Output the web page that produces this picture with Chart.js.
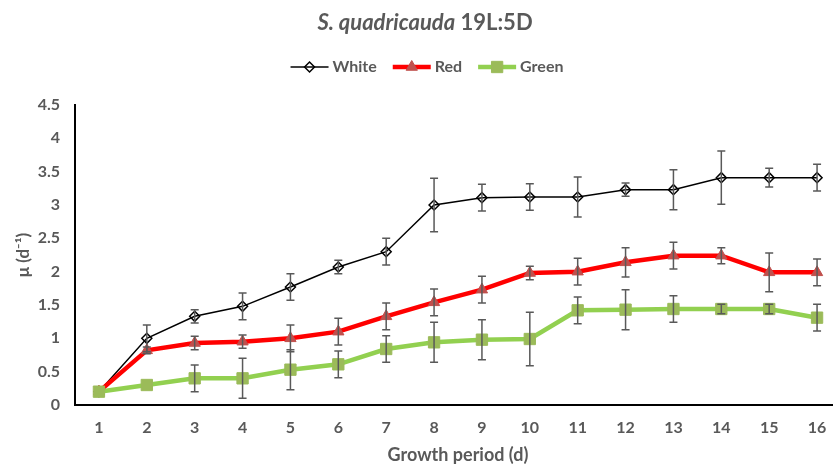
<!DOCTYPE html>
<html>
<head>
<meta charset="utf-8">
<script src="https://cdn.jsdelivr.net/npm/chart.js@4/dist/chart.umd.min.js"></script>
<style>
  body { margin: 0; background: #fff; overflow: hidden; }
  .wrap { width: 850px; height: 466px; }
</style>
</head>
<body>
<div class="wrap"><canvas id="growthChart"></canvas></div>
<script>
// Growth period (days)
const days = [1, 2, 3, 4, 5, 6, 7, 8, 9, 10, 11, 12, 13, 14, 15, 16];

// specific growth rate per light colour, with error bars
const white    = [0.2, 1.0, 1.33, 1.48, 1.77, 2.07, 2.3, 3.0, 3.11, 3.12, 3.12, 3.23, 3.23, 3.41, 3.41, 3.41];
const whiteErr = [0, 0.2, 0.1, 0.2, 0.2, 0.1, 0.2, 0.4, 0.2, 0.2, 0.3, 0.1, 0.3, 0.4, 0.14, 0.2];
const red      = [0.2, 0.82, 0.93, 0.95, 1.0, 1.1, 1.33, 1.54, 1.73, 1.98, 2.0, 2.14, 2.24, 2.24, 1.99, 1.99];
const redErr   = [0, 0.05, 0.1, 0.1, 0.2, 0.2, 0.2, 0.2, 0.2, 0.1, 0.2, 0.22, 0.2, 0.12, 0.29, 0.2];
const green    = [0.2, 0.3, 0.4, 0.4, 0.53, 0.61, 0.84, 0.94, 0.98, 0.99, 1.42, 1.43, 1.44, 1.44, 1.44, 1.31];
const greenErr = [0, 0, 0.2, 0.3, 0.3, 0.2, 0.2, 0.3, 0.3, 0.4, 0.2, 0.3, 0.2, 0.07, 0.07, 0.2];

const yTicks = [0, 0.5, 1, 1.5, 2, 2.5, 3, 3.5, 4, 4.5];

const textColor = '#595959';
const fontFamily = 'Lato, "Open Sans", sans-serif';

function toPoints(values) {
    return days.map((d, i) => ({ x: d, y: values[i] }));
}

const seriesStyles = [
    { label: 'White', values: white, err: whiteErr, line: '#000000', lineWidth: 1.5,
      pointStyle: 'rectRot', radius: 5, fill: 'rgba(0,0,0,0)', stroke: '#000000', pointBorder: 1.5, order: 3 },
    { label: 'Red', values: red, err: redErr, line: '#FF0000', lineWidth: 4.5,
      pointStyle: 'triangle', radius: 6.5, fill: '#C0504D', stroke: '#C0504D', pointBorder: 1, order: 2 },
    { label: 'Green', values: green, err: greenErr, line: '#92D050', lineWidth: 4.5,
      pointStyle: 'rect', radius: 8, fill: '#9BBB59', stroke: '#9BBB59', pointBorder: 1, order: 1 }
];

// Error bars on top of the lines
const errorBars = {
    id: 'errorBars',
    afterDatasetsDraw(chart) {
        const ctx = chart.ctx;
        const yScale = chart.scales.y;
        ctx.save();
        ctx.strokeStyle = '#595959';
        ctx.lineWidth = 1.5;
        chart.data.datasets.forEach((ds, di) => {
            const meta = chart.getDatasetMeta(di);
            ds.errors.forEach((e, i) => {
                if (!e) return;
                const pt = meta.data[i];
                const v = ds.data[i].y;
                const top = yScale.getPixelForValue(v + e);
                const bottom = yScale.getPixelForValue(v - e);
                ctx.beginPath();
                ctx.moveTo(pt.x, top);
                ctx.lineTo(pt.x, bottom);
                ctx.moveTo(pt.x - 4, top);
                ctx.lineTo(pt.x + 4, top);
                ctx.moveTo(pt.x - 4, bottom);
                ctx.lineTo(pt.x + 4, bottom);
                ctx.stroke();
            });
        });
        ctx.restore();
    }
};

// Title (mixed italic) and legend with line + marker samples
const titleLegend = {
    id: 'titleLegend',
    afterDraw(chart) {
        const ctx = chart.ctx;
        const cx = 425;
        ctx.save();
        ctx.fillStyle = textColor;
        ctx.textBaseline = 'alphabetic';

        const italicFont = 'italic bold 22px ' + fontFamily;
        const normalFont = 'bold 22px ' + fontFamily;
        const part1 = 'S. quadricauda';
        const part2 = ' 19L:5D';
        ctx.font = italicFont;
        const w1 = ctx.measureText(part1).width;
        ctx.font = normalFont;
        const w2 = ctx.measureText(part2).width;
        let x = cx - (w1 + w2) / 2;
        ctx.font = italicFont;
        ctx.textAlign = 'left';
        ctx.fillText(part1, x, 30);
        ctx.font = normalFont;
        ctx.fillText(part2, x + w1, 30);

        // legend
        const legendFont = 'bold 16px ' + fontFamily;
        ctx.font = legendFont;
        const sampleW = 38, gapText = 4, gapItem = 16;
        const widths = seriesStyles.map(s => ctx.measureText(s.label).width);
        const total = widths.reduce((a, b) => a + b, 0) + seriesStyles.length * (sampleW + gapText) + gapItem * (seriesStyles.length - 1);
        x = 427 - total / 2;
        const ly = 67;
        seriesStyles.forEach((s, i) => {
            ctx.strokeStyle = s.line;
            ctx.lineWidth = s.lineWidth;
            ctx.beginPath();
            ctx.moveTo(x, ly);
            ctx.lineTo(x + sampleW, ly);
            ctx.stroke();
            ctx.fillStyle = s.fill;
            ctx.strokeStyle = s.stroke;
            ctx.lineWidth = s.pointBorder;
            Chart.helpers.drawPoint(ctx, {
                pointStyle: s.pointStyle, radius: s.radius, rotation: 0, borderWidth: s.pointBorder
            }, x + sampleW / 2, ly);
            ctx.fillStyle = textColor;
            ctx.textBaseline = 'middle';
            ctx.fillText(s.label, x + sampleW + gapText, ly);
            x += sampleW + gapText + widths[i] + gapItem;
        });
        ctx.restore();
    }
};

const ctx = document.getElementById('growthChart').getContext('2d');

new Chart(ctx, {
    type: 'line',
    data: {
        datasets: seriesStyles.map(s => ({
            label: s.label,
            data: toPoints(s.values),
            errors: s.err,
            borderColor: s.line,
            borderWidth: s.lineWidth,
            pointStyle: s.pointStyle,
            pointRadius: s.radius,
            pointHoverRadius: s.radius,
            pointBackgroundColor: s.fill,
            pointBorderColor: s.stroke,
            pointBorderWidth: s.pointBorder,
            tension: 0,
            order: s.order
        }))
    },
    options: {
        responsive: true,
        maintainAspectRatio: false,
        animation: false,
        layout: { padding: { top: 105, right: 7, bottom: 0, left: 0 } },
        plugins: {
            legend: { display: false },
            title: { display: false },
            tooltip: { enabled: false }
        },
        scales: {
            x: {
                type: 'linear',
                min: 0.5,
                max: 16.5,
                afterBuildTicks: scale => {
                    scale.ticks = days.map(d => ({ value: d }));
                },
                afterFit: scale => { scale.height = 61; },
                grid: { display: false, drawTicks: false },
                border: { color: '#000000', width: 2 },
                ticks: {
                    color: textColor,
                    font: { family: fontFamily, size: 16, weight: 'bold' },
                    padding: 13,
                    maxRotation: 0,
                    autoSkip: false
                },
                title: {
                    display: true,
                    text: 'Growth period (d)',
                    color: textColor,
                    font: { family: fontFamily, size: 18, weight: 'bold' },
                    padding: { top: 0, bottom: 0 }
                }
            },
            y: {
                min: 0,
                max: 4.5,
                afterBuildTicks: scale => {
                    scale.ticks = yTicks.map(v => ({ value: v }));
                },
                afterFit: scale => { scale.width = 75; },
                grid: { display: false, drawTicks: false },
                border: { color: '#000000', width: 2 },
                ticks: {
                    color: textColor,
                    font: { family: fontFamily, size: 16, weight: 'bold' },
                    padding: 15,
                    callback: v => String(v)
                },
                title: {
                    display: true,
                    text: 'μ (d⁻¹)',
                    color: textColor,
                    font: { family: fontFamily, size: 17, weight: 'bold' },
                    padding: { top: 13, bottom: 0 }
                }
            }
        }
    },
    plugins: [errorBars, titleLegend]
});
</script>
</body>
</html>
